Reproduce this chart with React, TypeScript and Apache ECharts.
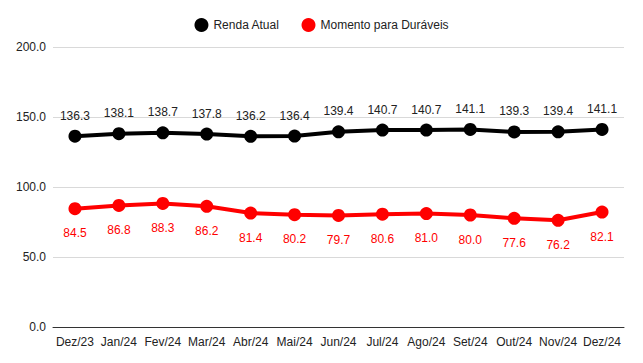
import React, { useEffect, useRef } from "react";
import * as echarts from "echarts";

const categories = ["Dez/23", "Jan/24", "Fev/24", "Mar/24", "Abr/24", "Mai/24", "Jun/24", "Jul/24", "Ago/24", "Set/24", "Out/24", "Nov/24", "Dez/24"];
const rendaAtual = [136.3, 138.1, 138.7, 137.8, 136.2, 136.4, 139.4, 140.7, 140.7, 141.1, 139.3, 139.4, 141.1];
const momentoDuraveis = [84.5, 86.8, 88.3, 86.2, 81.4, 80.2, 79.7, 80.6, 81.0, 80.0, 77.6, 76.2, 82.1];

export default function App() {
  const ref = useRef<HTMLDivElement>(null);
  useEffect(() => {
    if (!ref.current) return;
    const chart = echarts.init(ref.current, undefined, { renderer: "svg" });
    const font = "Liberation Sans, Arial, sans-serif";
    chart.setOption({
      animation: false,
      backgroundColor: "#fff",
      textStyle: { fontFamily: font },
      legend: {
        top: 13,
        left: "center",
        icon: "circle",
        itemWidth: 14,
        itemHeight: 14,
        itemGap: 22,
        textStyle: { fontSize: 12, color: "#222", fontFamily: font },
        data: ["Renda Atual", "Momento para Duráveis"],
      },
      grid: { left: 53, right: 19, top: 47, bottom: 36, containLabel: false },
      xAxis: {
        type: "category",
        data: categories,
        boundaryGap: true,
        axisLine: { lineStyle: { color: "#333", width: 1 } },
        axisTick: { show: false },
        axisLabel: { color: "#222", fontSize: 12, margin: 9, interval: 0, fontFamily: font },
      },
      yAxis: {
        type: "value",
        min: 0,
        max: 200,
        interval: 50,
        axisLine: { show: false },
        axisTick: { show: false },
        splitLine: { lineStyle: { color: "#d9d9d9", width: 1 } },
        axisLabel: { color: "#222", fontSize: 12, margin: 7, formatter: (v: number) => v.toFixed(1), fontFamily: font },
      },
      series: [
        {
          name: "Renda Atual",
          type: "line",
          data: rendaAtual,
          symbol: "circle",
          symbolSize: 13,
          itemStyle: { color: "#000" },
          lineStyle: { color: "#000", width: 4 },
          label: {
            show: true,
            position: "top",
            distance: 8,
            color: "#222",
            fontSize: 12,
            fontFamily: font,
            formatter: (p: any) => Number(p.value).toFixed(1),
          },
        },
        {
          name: "Momento para Duráveis",
          type: "line",
          data: momentoDuraveis,
          symbol: "circle",
          symbolSize: 13,
          itemStyle: { color: "#ff0000" },
          lineStyle: { color: "#ff0000", width: 4 },
          label: {
            show: true,
            position: "bottom",
            distance: 12,
            color: "#ff0000",
            fontSize: 12,
            fontFamily: font,
            formatter: (p: any) => Number(p.value).toFixed(1),
          },
        },
      ],
    });
    return () => chart.dispose();
  }, []);
  return <div ref={ref} style={{ position: "fixed", left: 0, top: 0, width: 643, height: 363 }} />;
}
